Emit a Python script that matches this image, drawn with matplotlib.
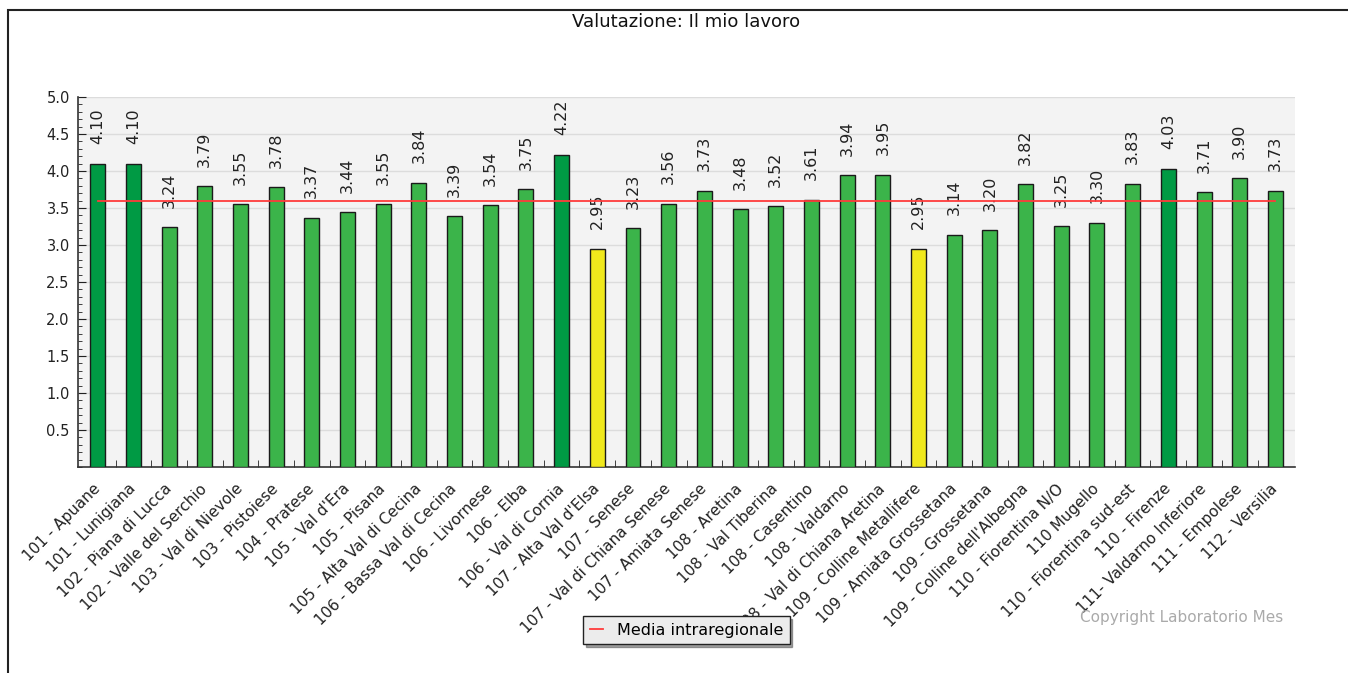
import numpy as np
import matplotlib
matplotlib.use("Agg")
import matplotlib.pyplot as plt
from matplotlib.ticker import MultipleLocator, FixedLocator
from matplotlib.patches import Rectangle

# Data
labels = [
    "101 - Apuane", "101 - Lunigiana", "102 - Piana di Lucca", "102 - Valle del Serchio",
    "103 - Val di Nievole", "103 - Pistoiese", "104 - Pratese", "105 - Val d'Era",
    "105 - Pisana", "105 - Alta Val di Cecina", "106 - Bassa Val di Cecina", "106 - Livornese",
    "106 - Elba", "106 - Val di Cornia", "107 - Alta Val d'Elsa", "107 - Senese",
    "107 - Val di Chiana Senese", "107 - Amiata Senese", "108 - Aretina", "108 - Val Tiberina",
    "108 - Casentino", "108 - Valdarno", "108 - Val di Chiana Aretina", "109 - Colline Metallifere",
    "109 - Amiata Grossetana", "109 - Grossetana", "109 - Colline dell'Albegna", "110 - Fiorentina N/O",
    "110 Mugello", "110 - Fiorentina sud-est", "110 - Firenze", "111- Valdarno Inferiore",
    "111 - Empolese", "112 - Versilia",
]
values = [4.10, 4.10, 3.24, 3.79, 3.55, 3.78, 3.37, 3.44, 3.55, 3.84, 3.39, 3.54,
          3.75, 4.22, 2.95, 3.23, 3.56, 3.73, 3.48, 3.52, 3.61, 3.94, 3.95, 2.95,
          3.14, 3.20, 3.82, 3.25, 3.30, 3.83, 4.03, 3.71, 3.90, 3.73]
media = 3.60

dark_green = "#009a44"
green = "#3bb44a"
yellow = "#f0e81c"
colors = [dark_green if v >= 4.0 else (yellow if v < 3.0 else green) for v in values]

fig = plt.figure(figsize=(13.48, 6.73), dpi=100)
ax = fig.add_axes([0.0579, 0.306, 0.9028, 0.550])
ax.set_facecolor("#f3f3f3")

x = np.arange(len(values))
ax.bar(x, values, width=0.42, color=colors, edgecolor="#1a1a1a", linewidth=1.0, zorder=3)
ax.plot([x[0], x[-1]], [media, media], color="#ff3b3b", linewidth=1.3, zorder=4,
        label="Media intraregionale")

for xi, v in zip(x, values):
    ax.annotate(f"{v:.2f}", (xi, v), xytext=(0, 14), textcoords="offset points",
                rotation=90, ha="center", va="bottom", fontsize=11.5, color="#222222")

ax.set_xlim(-0.55, len(values) - 0.45)
ax.set_ylim(0, 5.0)
ax.yaxis.set_major_locator(FixedLocator(np.arange(0.5, 5.01, 0.5)))
ax.yaxis.set_minor_locator(MultipleLocator(0.1))
ax.yaxis.grid(True, which="major", color="#dcdcdc", linewidth=1.0, zorder=0)
ax.tick_params(axis="y", which="major", direction="in", length=6, labelsize=10.5,
               colors="#222222", pad=6)
ax.tick_params(axis="y", which="minor", direction="in", length=3, color="#222222")

ax.set_xticks(x)
ax.set_xticklabels(labels, rotation=45, ha="right", va="center", rotation_mode="anchor",
                   fontsize=11, color="#222222")
ax.tick_params(axis="x", which="major", length=0, pad=14)
ax.xaxis.set_minor_locator(FixedLocator(x[:-1] + 0.5))
ax.tick_params(axis="x", which="minor", direction="in", length=5, color="#222222")

for s in ["top", "right"]:
    ax.spines[s].set_visible(False)
for s in ["left", "bottom"]:
    ax.spines[s].set_color("#333333")
    ax.spines[s].set_linewidth(1.2)

fig.text(0.509, 0.968, "Valutazione: Il mio lavoro", ha="center", va="center",
         fontsize=13, color="#111111")

leg = ax.legend(loc="upper center", bbox_to_anchor=(0.5, -0.403), fontsize=11.5,
                frameon=True, fancybox=False, shadow=True, handlelength=0.8,
                handletextpad=0.9, borderpad=0.4, borderaxespad=0)
leg.get_frame().set_facecolor("#ececec")
leg.get_frame().set_edgecolor("#222222")

fig.text(0.952, 0.083, "Copyright Laboratorio Mes", ha="right", va="center",
         fontsize=11, color="#aaaaaa")

fig.patches.append(Rectangle((8 / 1348, -0.02), 1.0, 1.0 - 10 / 673 + 0.02,
                             transform=fig.transFigure, fill=False,
                             edgecolor="#222222", linewidth=1.5))

fig.savefig("out.png", dpi=100)
